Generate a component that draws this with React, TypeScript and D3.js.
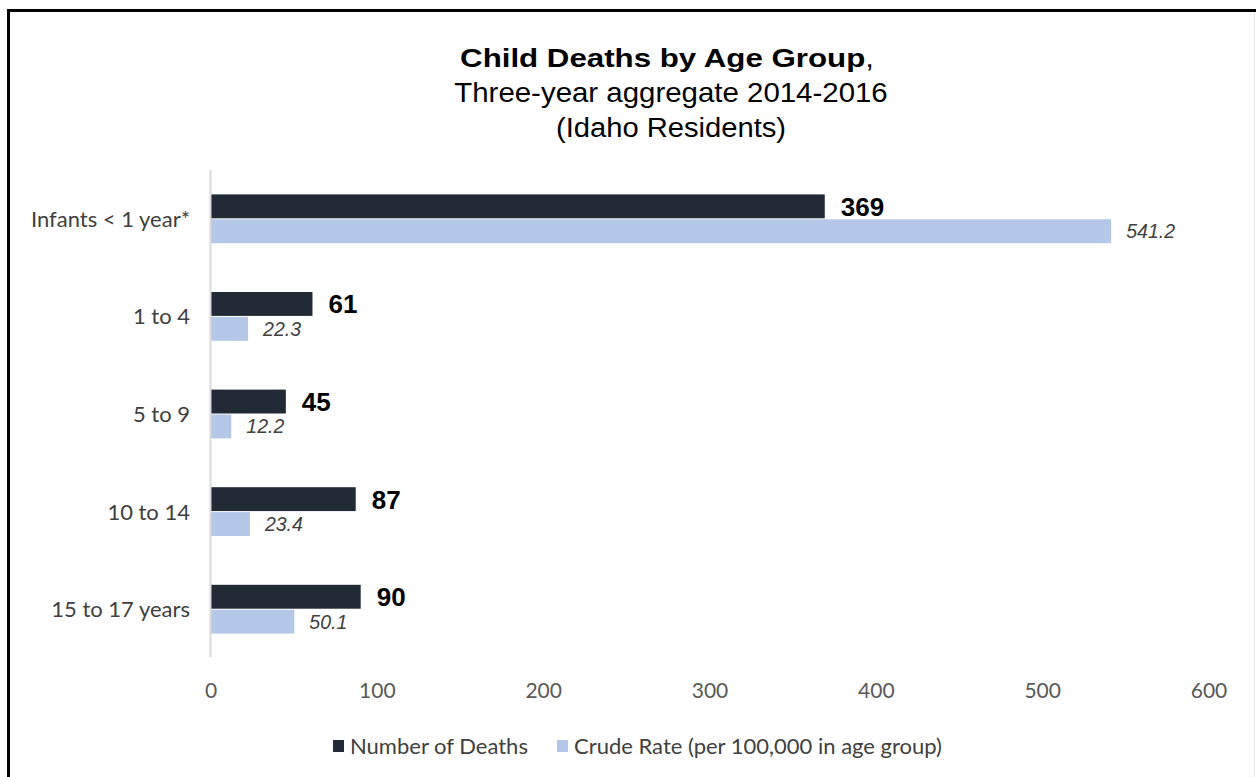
import React from "react";
import * as d3 from "d3";

const categories = ["Infants < 1 year*", "1 to 4", "5 to 9", "10 to 14", "15 to 17 years"];
const deaths = [369, 61, 45, 87, 90];
const crudeRate = [541.2, 22.3, 12.2, 23.4, 50.1];
const xTicks = [0, 100, 200, 300, 400, 500, 600];
const seriesNames = ["Number of Deaths", "Crude Rate (per 100,000 in age group)"];

const W = 1256;
const H = 777;
const DARK = "#222a36";
const LIGHT = "#b4c7e7";
const TEXT = "#404040";
const LABEL_FONT = "Lato, 'Open Sans', sans-serif";
const TITLE_FONT = "'Liberation Sans', Arial, sans-serif";
const CX = 671;

export default function App() {
  const x = d3.scaleLinear().domain([0, 600]).range([211, 1209]);
  const y = d3.scaleBand<string>().domain(categories).range([170, 658]).paddingInner(0.5).paddingOuter(0.25);
  const sub = d3.scaleBand<string>().domain(["deaths", "rate"]).range([0, y.bandwidth()]).paddingInner(0.04);

  return (
    <svg width={W} height={H} style={{ position: "absolute", left: 0, top: 0 }}>
      <rect x={0} y={0} width={W} height={H} fill="#fff" />
      {/* frame */}
      <rect x={7} y={9} width={W - 7} height={3} fill="#000" />
      <rect x={7} y={9} width={3} height={H - 9} fill="#000" />
      <line x1={1254.5} x2={1254.5} y1={12} y2={H} stroke="#e6e6e6" />

      {/* title */}
      <g transform={`translate(${CX - 4},67) scale(1.18,1)`}>
        <text x={0} y={0} textAnchor="middle" fontFamily={TITLE_FONT} fontSize={26.5} fill="#000">
          <tspan fontWeight="bold">Child Deaths by Age Group</tspan>
          <tspan>,</tspan>
        </text>
      </g>
      <g transform={`translate(${CX},102) scale(1.09,1)`}>
        <text x={0} y={0} textAnchor="middle" fontFamily={TITLE_FONT} fontSize={27} fill="#000">
          Three-year aggregate 2014-2016
        </text>
      </g>
      <g transform={`translate(${CX},137) scale(1.08,1)`}>
        <text x={0} y={0} textAnchor="middle" fontFamily={TITLE_FONT} fontSize={27} fill="#000">
          (Idaho Residents)
        </text>
      </g>

      {/* bars */}
      {categories.map((c, i) => {
        const y0 = y(c)!;
        const yd = y0 + sub("deaths")!;
        const yr = y0 + sub("rate")!;
        const bh = sub.bandwidth();
        return (
          <g key={c}>
            <rect x={x(0)} y={yd} width={x(deaths[i]) - x(0)} height={bh} fill={DARK} />
            <rect x={x(0)} y={yr} width={x(crudeRate[i]) - x(0)} height={bh} fill={LIGHT} />
            <text x={x(deaths[i]) + 16} y={yd + bh / 2} dy="0.36em" fontFamily={TITLE_FONT} fontWeight="bold" fontSize={26} fill="#000">
              {deaths[i]}
            </text>
            <text x={x(crudeRate[i]) + 15} y={yr + bh / 2} dy="0.36em" fontFamily={TITLE_FONT} fontStyle="italic" fontSize={19.5} fill={TEXT}>
              {crudeRate[i].toFixed(1)}
            </text>
            <text x={190} y={y0 + y.bandwidth() / 2} dy="0.36em" textAnchor="end" fontFamily={LABEL_FONT} fontSize={22} fill={TEXT}>
              {c}
            </text>
          </g>
        );
      })}

      {/* category axis line */}
      <line x1={210.5} x2={210.5} y1={170} y2={657} stroke="#d9d9d9" strokeWidth={2} />

      {/* value axis ticks */}
      {xTicks.map((t) => (
        <text key={t} x={x(t)} y={690} dy="0.36em" textAnchor="middle" fontFamily={LABEL_FONT} fontSize={21} fill="#595959">
          {t}
        </text>
      ))}

      {/* legend */}
      <rect x={333} y={740} width={11} height={12} fill={DARK} />
      <text x={350} y={746} dy="0.36em" fontFamily={LABEL_FONT} fontSize={22} fill={TEXT}>
        {seriesNames[0]}
      </text>
      <rect x={557} y={740} width={11} height={12} fill={LIGHT} />
      <text x={574} y={746} dy="0.36em" fontFamily={LABEL_FONT} fontSize={22} fill={TEXT}>
        {seriesNames[1]}
      </text>
    </svg>
  );
}
